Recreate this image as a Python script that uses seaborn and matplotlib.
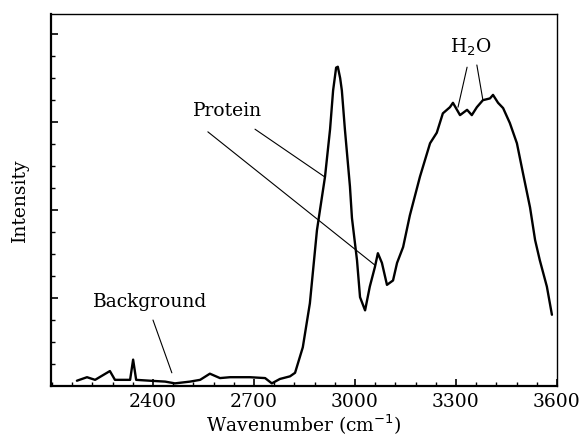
import numpy as np
import pandas as pd
import seaborn as sns
import matplotlib
matplotlib.use("Agg")
import matplotlib.pyplot as plt
from matplotlib.ticker import MultipleLocator

wavenumber = [2174, 2204, 2228, 2272, 2287, 2332, 2341, 2350, 2391, 2436, 2465, 2510,
              2540, 2569, 2599, 2629, 2688, 2733, 2753, 2777, 2807, 2822, 2845, 2866,
              2887, 2896, 2911, 2926, 2935, 2944, 2949, 2956, 2961, 2970, 2985, 2991,
              3006, 3015, 3030, 3044, 3059, 3068, 3080, 3095, 3113, 3125, 3143, 3163,
              3193, 3223, 3243, 3261, 3282, 3291, 3312, 3333, 3347, 3362, 3380, 3401,
              3410, 3425, 3440, 3460, 3481, 3499, 3520, 3535, 3549, 3570, 3585]
intensity = [0.06, 0.10, 0.07, 0.17, 0.07, 0.07, 0.30, 0.07, 0.06, 0.05, 0.03, 0.05,
             0.07, 0.14, 0.09, 0.10, 0.10, 0.09, 0.03, 0.08, 0.11, 0.15, 0.44, 0.94,
             1.77, 2.00, 2.38, 2.92, 3.36, 3.62, 3.63, 3.50, 3.36, 2.92, 2.27, 1.91,
             1.43, 1.01, 0.86, 1.13, 1.35, 1.51, 1.40, 1.15, 1.20, 1.40, 1.58, 1.94,
             2.38, 2.76, 2.88, 3.10, 3.17, 3.22, 3.08, 3.14, 3.08, 3.17, 3.25, 3.27,
             3.31, 3.22, 3.16, 2.99, 2.76, 2.42, 2.03, 1.66, 1.43, 1.13, 0.81]

x_ticks = [2400, 2700, 3000, 3300, 3600]
x_tick_labels = ["2400", "2700", "3000", "3300", "3600"]

df = pd.DataFrame({"wavenumber": wavenumber, "intensity": intensity})

sns.set_style("white")
plt.rcParams["font.family"] = ["DejaVu Serif"]
plt.rcParams["text.color"] = "black"
plt.rcParams["axes.labelcolor"] = "black"
plt.rcParams["xtick.color"] = "black"
plt.rcParams["ytick.color"] = "black"
FS = 13.5

fig = plt.figure(figsize=(5.82, 4.37), dpi=100)
ax = fig.add_axes([0.0876, 0.1167, 0.957 - 0.0876, 0.968 - 0.1167])

sns.lineplot(data=df, x="wavenumber", y="intensity", ax=ax, color="black",
             linewidth=1.7, estimator=None, sort=False)

ax.set_xlim(2097, 3600)
ax.set_ylim(0, 4.23)
ax.set_xticks(x_ticks)
ax.set_xticklabels(x_tick_labels, fontsize=FS)
ax.xaxis.set_minor_locator(MultipleLocator(60))
ax.yaxis.set_major_locator(MultipleLocator(1))
ax.yaxis.set_minor_locator(MultipleLocator(0.25))
ax.set_yticklabels([])
ax.tick_params(axis="both", which="major", direction="in", length=5, width=1.2,
               color="black", top=False, right=False, bottom=True, left=True, pad=5)
ax.tick_params(axis="both", which="minor", direction="in", length=3, width=1.0,
               color="black", top=False, right=False, bottom=True, left=True)

for side in ["left", "bottom"]:
    ax.spines[side].set_linewidth(1.6)
    ax.spines[side].set_color("black")
for side in ["top", "right"]:
    ax.spines[side].set_linewidth(1.0)
    ax.spines[side].set_color("black")
    ax.spines[side].set_visible(True)

ax.set_xlabel("Wavenumber (cm$^{-1}$)", fontsize=FS, labelpad=1)
ax.set_ylabel("Intensity", fontsize=FS, labelpad=11)

# annotations
ax.text(2620, 3.125, "Protein", fontsize=FS, ha="center", va="center")
ax.plot([2563, 3059], [2.89, 1.375], color="black", lw=0.8)
ax.plot([2703, 2911], [2.92, 2.375], color="black", lw=0.8)

ax.text(3344, 3.85, "H$_2$O", fontsize=FS, ha="center", va="center")
ax.plot([3333, 3306], [3.625, 3.17], color="black", lw=0.8)
ax.plot([3362, 3380], [3.65, 3.25], color="black", lw=0.8)

ax.text(2392, 0.955, "Background", fontsize=FS, ha="center", va="center")
ax.plot([2400, 2456], [0.75, 0.15], color="black", lw=0.8)

fig.savefig("out.png", dpi=100)
